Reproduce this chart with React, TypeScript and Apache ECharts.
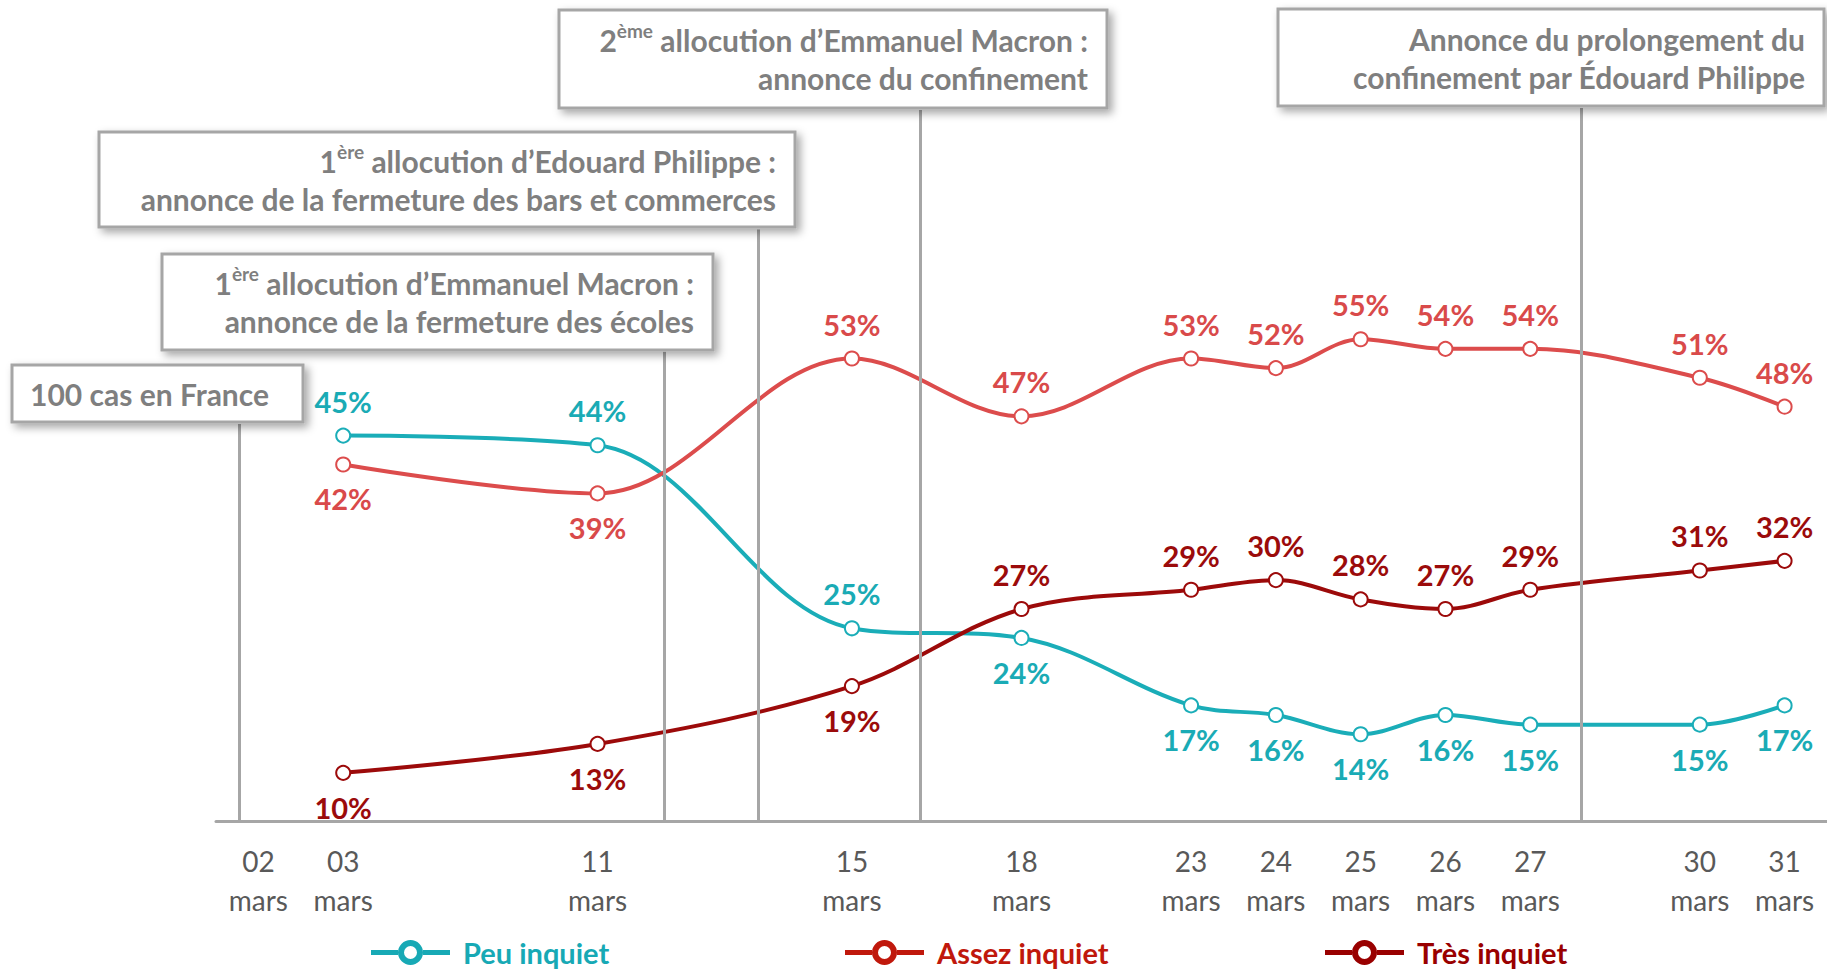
import React, { useEffect, useRef } from 'react';
import * as echarts from 'echarts';

// ---- data ----
const dayLabels = ['02', '03', '', '', '11', '', '', '15', '', '18', '', '23', '24', '25', '26', '27', '', '30', '31'];
const monthLabel = 'mars';
const seriesNames = ['Peu inquiet', 'Assez inquiet', 'Très inquiet'];
const peuInquiet = [null, 45, null, null, 44, null, null, 25, null, 24, null, 17, 16, 14, 16, 15, null, 15, 17];
const assezInquiet = [null, 42, null, null, 39, null, null, 53, null, 47, null, 53, 52, 55, 54, 54, null, 51, 48];
const tresInquiet = [null, 10, null, null, 13, null, null, 19, null, 27, null, 29, 30, 28, 27, 29, null, 31, 32];
const peuSides = [null, 'top', null, null, 'top', null, null, 'top', null, 'bottom', null, 'bottom', 'bottom', 'bottom', 'bottom', 'bottom', null, 'bottom', 'bottom'];
const assezSides = [null, 'bottom', null, null, 'bottom', null, null, 'top', null, 'top', null, 'top', 'top', 'top', 'top', 'top', null, 'top', 'top'];
const tresSides = [null, 'bottom', null, null, 'bottom', null, null, 'bottom', null, 'top', null, 'top', 'top', 'top', 'top', 'top', null, 'top', 'top'];

// events (position on the day-slot scale, top of the marker line in % units)
const eventPositions = [-0.23, 4.79, 5.89, 7.81, 15.6];
const eventTops = [46.2, 53.7, 66.4, 78.8, 79.0];
const eventTexts = [
  '100 cas en France',
  '1{sup|ère} allocution d’Emmanuel Macron :\nannonce de la fermeture des écoles',
  '1{sup|ère} allocution d’Edouard Philippe :\nannonce de la fermeture des bars et commerces',
  '2{sup|ème} allocution d’Emmanuel Macron :\nannonce du confinement',
  'Annonce du prolongement du\nconfinement par Édouard Philippe',
];

const FONT = 'Lato, "Open Sans", sans-serif';
const lineColors = ['#1aadb8', '#dc4c4c', '#9c0a0a'];
const labelColors = ['#1aabb5', '#d94a4a', '#9b0b0b'];
const legendColors = ['#17a9b5', '#c0180c', '#990000'];
const GRAY = '#a6a6a6';
const TEXT_GRAY = '#7f7f7f';

const legendIcon =
  'path://M0,10H27V15H0Z M52,10H79V15H52Z M27,12.5A12.5,12.5 0 1,1 52,12.5A12.5,12.5 0 1,1 27,12.5Z M33,12.5A6.5,6.5 0 1,0 46,12.5A6.5,6.5 0 1,0 33,12.5Z';

// box layout (pixels)
const boxes = [
  { x: 12, y: 365, w: 291, h: 57, align: 'left' },
  { x: 162, y: 254, w: 551, h: 96, align: 'right' },
  { x: 99, y: 132, w: 696, h: 95, align: 'right' },
  { x: 559, y: 10, w: 548, h: 98, align: 'right' },
  { x: 1278, y: 9, w: 546, h: 97, align: 'right' },
];

export default function App() {
  const ref = useRef<HTMLDivElement>(null);
  useEffect(() => {
    if (!ref.current) return;
    const chart = echarts.init(ref.current, undefined, { renderer: 'svg' });

    const mkData = (vals: (number | null)[], sides: (string | null)[]) =>
      vals.map((v, i) => (v == null ? null : { value: v, label: { position: sides[i] } }));

    const seriesDefs = [
      { vals: peuInquiet, sides: peuSides },
      { vals: assezInquiet, sides: assezSides },
      { vals: tresInquiet, sides: tresSides },
    ];

    const graphic: any[] = [];
    boxes.forEach((b, i) => {
      graphic.push({
        type: 'rect',
        z: 100,
        shape: { x: b.x, y: b.y, width: b.w, height: b.h },
        style: {
          fill: '#ffffff',
          stroke: GRAY,
          lineWidth: 3,
          shadowBlur: 8,
          shadowOffsetX: 4,
          shadowOffsetY: 4,
          shadowColor: 'rgba(0,0,0,0.35)',
        },
      });
      graphic.push({
        type: 'text',
        z: 101,
        x: b.align === 'right' ? b.x + b.w - 19 : b.x + 18,
        y: b.y + b.h / 2,
        style: {
          text: eventTexts[i],
          align: b.align,
          verticalAlign: 'middle',
          fontFamily: FONT,
          fontWeight: 'bold',
          fontSize: 30,
          lineHeight: 38,
          fill: TEXT_GRAY,
          rich: {
            sup: {
              fontFamily: FONT,
              fontWeight: 'bold',
              fontSize: 19,
              lineHeight: 26,
              verticalAlign: 'top',
              fill: TEXT_GRAY,
            },
          },
        },
      });
    });

    const option: any = {
      animation: false,
      backgroundColor: '#ffffff',
      grid: { left: 216, right: -3, top: 2, bottom: 149, containLabel: false },
      xAxis: [
        {
          type: 'category',
          data: dayLabels,
          boundaryGap: true,
          axisLine: { show: true, lineStyle: { color: GRAY, width: 3 } },
          axisTick: { show: false },
          axisLabel: {
            interval: 0,
            formatter: (v: string) => (v ? `${v}\n${monthLabel}` : ''),
            fontFamily: FONT,
            fontSize: 28,
            lineHeight: 39,
            color: '#595959',
            margin: 20,
          },
          splitLine: { show: false },
        },
        { type: 'value', min: -0.5, max: 18.5, show: false },
      ],
      yAxis: { type: 'value', min: 5, max: 90, show: false, splitLine: { show: false } },
      legend: seriesNames.map((name, i) => ({
        data: [{ name, itemStyle: { color: legendColors[i] } }],
        left: [371, 845, 1325][i],
        top: 938,
        padding: 0,
        icon: legendIcon,
        itemWidth: 79,
        itemHeight: 25,
        itemStyle: { borderWidth: 0 },
        textStyle: {
          fontFamily: FONT,
          fontWeight: 'bold',
          fontSize: 29,
          color: legendColors[i],
          padding: [0, 0, 0, 8],
        },
        selectedMode: false,
      })),
      series: [
        {
          type: 'line',
          name: 'events',
          xAxisIndex: 1,
          yAxisIndex: 0,
          data: [],
          silent: true,
          markLine: {
            silent: true,
            symbol: 'none',
            label: { show: false },
            lineStyle: { color: GRAY, width: 3, type: 'solid' },
            data: eventPositions.map((x, i) => [{ coord: [x, 5] }, { coord: [x, eventTops[i]] }]),
          },
        },
        ...seriesDefs.map((d, i) => ({
          type: 'line',
          name: seriesNames[i],
          data: mkData(d.vals, d.sides),
          connectNulls: true,
          smooth: 0.35,
          symbol: 'emptyCircle',
          symbolSize: 14,
          lineStyle: { width: 4, color: lineColors[i] },
          itemStyle: { color: lineColors[i], borderWidth: 3 },
          label: {
            show: true,
            formatter: '{c}%',
            fontFamily: FONT,
            fontWeight: 'bold',
            fontSize: 29,
            color: labelColors[i],
            distance: 12,
          },
        })),
      ],
      graphic,
    };
    chart.setOption(option);
    return () => chart.dispose();
  }, []);
  return (
    <div
      ref={ref}
      style={{ position: 'fixed', left: 0, top: 0, width: 1827, height: 970, background: '#fff' }}
    />
  );
}
